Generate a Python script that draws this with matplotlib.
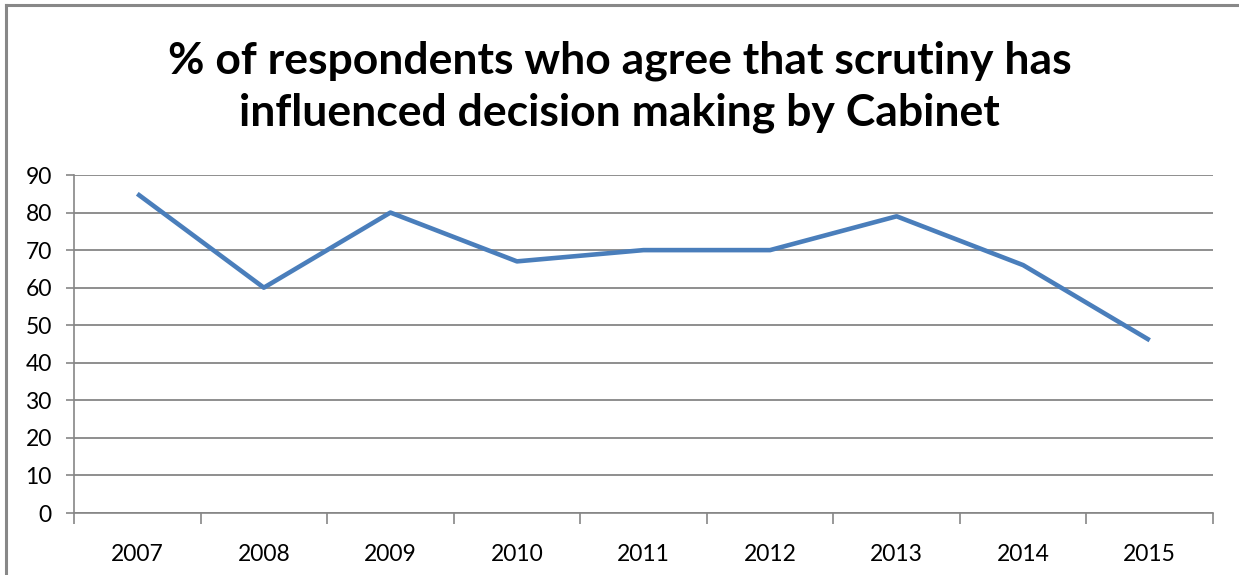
import matplotlib
matplotlib.use('Agg')
import matplotlib.pyplot as plt
from matplotlib.lines import Line2D

# data
years = ['2007', '2008', '2009', '2010', '2011', '2012', '2013', '2014', '2015']
agree_pct = [85, 60, 80, 67, 70, 70, 79, 66, 46]
y_ticks = [0, 10, 20, 30, 40, 50, 60, 70, 80, 90]

title = '% of respondents who agree that scrutiny has\ninfluenced decision making by Cabinet'

plt.rcParams['font.family'] = ['Lato', 'DejaVu Sans']

W, H = 1239, 575
fig = plt.figure(figsize=(W / 100, H / 100), dpi=100)
ax = fig.add_axes([74 / W, 1 - 513 / H, (1213 - 74) / W, (513 - 175) / H])

x = list(range(len(years)))
ax.plot(x, agree_pct, color='#4a7ebb', linewidth=3.3, solid_capstyle='butt')

ax.set_xlim(-0.5, len(years) - 0.5)
ax.set_ylim(0, 90)
ax.set_yticks(y_ticks)
ax.set_yticklabels([str(v) for v in y_ticks])
ax.set_xticks(x)
ax.set_xticklabels(years)
ax.set_xticks([i - 0.5 for i in range(len(years) + 1)], minor=True)

grid_col = '#868686'
ax.yaxis.grid(True, color=grid_col, linewidth=1.3)
ax.set_axisbelow(True)
for side in ['top', 'right']:
    ax.spines[side].set_visible(False)
ax.spines['left'].set_color(grid_col)
ax.spines['bottom'].set_color(grid_col)
ax.spines['left'].set_linewidth(1.2)
ax.spines['bottom'].set_linewidth(1.2)

ax.tick_params(axis='y', length=6, color=grid_col, width=1.2, labelsize=16.5, pad=10)
ax.tick_params(axis='x', which='major', length=0, labelsize=16.5, pad=22)
ax.tick_params(axis='x', which='minor', length=8, color=grid_col, width=1.2)

fig.text(0.5, 1 - 87 / H, title, ha='center', va='center', fontsize=32,
         fontweight='bold', linespacing=1.35)

# chart border (left and top edges visible in the crop)
fig.add_artist(Line2D([6 / W, 6 / W], [0, 1 - 5 / H], transform=fig.transFigure,
                      color='#888888', linewidth=2.2))
fig.add_artist(Line2D([6 / W, 1], [1 - 5 / H, 1 - 5 / H], transform=fig.transFigure,
                      color='#888888', linewidth=2.2))

fig.savefig('out.png', dpi=100)
